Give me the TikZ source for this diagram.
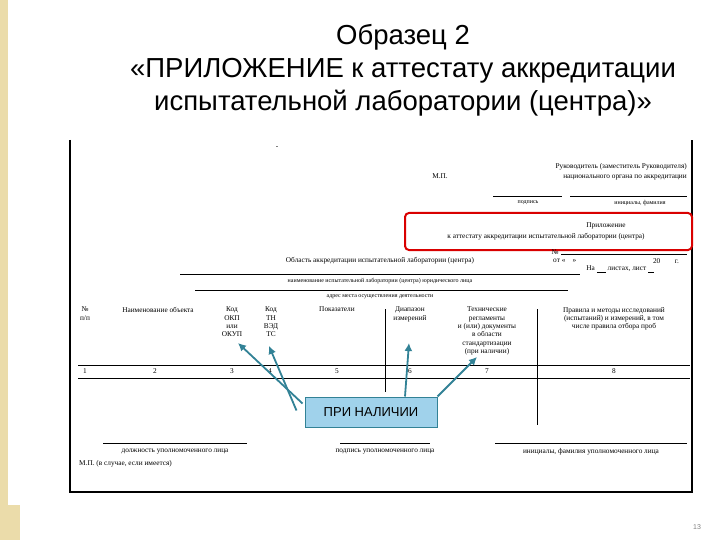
\documentclass[tikz,border=0pt]{standalone}
\usepackage{fontspec}
\setmainfont{Liberation Serif}
\newfontfamily\titlefont{Liberation Sans}
\usetikzlibrary{arrows.meta}
\definecolor{teal1}{RGB}{50,130,150}
\definecolor{boxfill}{RGB}{160,210,235}
\definecolor{beige}{RGB}{235,220,170}
\tikzset{
 doc/.style={font=\fontsize{7.3}{8.3}\selectfont, inner sep=0pt, align=center},
 capt/.style={font=\fontsize{6}{7}\selectfont, inner sep=0pt},
 ttl/.style={font=\titlefont\fontsize{27.5}{33}\selectfont, align=center, inner sep=0pt},
 arr/.style={teal1, line width=1.8pt, -{Latex[length=8pt,width=8pt]}},
 callout/.style={draw=teal1, fill=boxfill, line width=1pt, minimum width=132pt, minimum height=30pt, font=\titlefont\fontsize{13}{15}\selectfont}
}
\begin{document}
\begin{tikzpicture}[x=1pt,y=-1pt]
\useasboundingbox (0,0) rectangle (720,540);
\fill[white] (0,0) rectangle (720,540);
\fill[beige] (0,0) rectangle (8,540);
\fill[beige] (0,505) rectangle (20,540);
% title
\node[ttl] (t) at (403,70) {Образец 2\\«ПРИЛОЖЕНИЕ к аттестату аккредитации\\испытательной лаборатории (центра)»};
% frame
\draw[line width=1.2pt] (70,140) -- (70,492) -- (692,492) -- (692,140);
\node[doc] (dot) at (277,148) {-};
% header block
\node[doc, anchor=east] (ruk1) at (687,167) {Руководитель (заместитель Руководителя)};
\node[doc, anchor=east] (ruk2) at (687,178) {национального органа по аккредитации};
\node[doc] (mp) at (440,176) {М.П.};
\draw (493,196) -- (562,196);
\draw (570,196) -- (687,196);
\node[capt] (podp) at (528,203) {подпись};
\node[capt] (inic) at (640,203) {инициалы, фамилия};
\draw[red!85!black, line width=2pt, rounded corners=4pt] (405,213) rectangle (692,250);
\node[doc] (pril1) at (606,226) {Приложение};
\node[doc] (pril2) at (546,237) {к аттестату аккредитации испытательной лаборатории (центра)};
\node[doc] (no) at (555,252) {№};
\draw (561,254) -- (687,254);
\node[doc, anchor=west] (ot) at (553,261) {от «\quad »};
\node[doc] (g20) at (666,261) {20\qquad г.};
\node[doc] (na) at (620,269) {На \underline{\ \ \ \ \ } листах, лист \underline{\ \ \ }};
\node[doc] (obl) at (380,261) {Область аккредитации испытательной лаборатории (центра)};
\draw (180,274) -- (580,274);
\node[capt] (naim) at (380,281) {наименование испытательной лаборатории (центра) юридического лица};
\draw (195,290) -- (568,290);
\node[capt] (adr) at (380,297) {адрес места осуществления деятельности};
% table header
\node[doc, anchor=north] (h1) at (85,307) {№\\п/п};
\node[doc, anchor=north] (h2) at (158,307) {Наименование объекта};
\node[doc, anchor=north] (h3) at (232,307) {Код\\ОКП\\или\\ОКУП};
\node[doc, anchor=north] (h4) at (271,307) {Код\\ТН\\ВЭД\\ТС};
\node[doc, anchor=north] (h5) at (337,307) {Показатели};
\node[doc, anchor=north] (h6) at (410,307) {Диапазон\\измерений};
\node[doc, anchor=north] (h7) at (487,307) {Технические\\регламенты\\и (или) документы\\в области\\стандартизации\\(при наличии)};
\node[doc, anchor=north] (h8) at (614,307) {Правила и методы исследований\\(испытаний) и измерений, в том\\числе правила отбора проб};
\draw (385,309) -- (385,392);
\draw (537,309) -- (537,425);
\draw (78,365) -- (690,365);
\draw (78,378) -- (690,378);
\foreach \n/\x in {1/85,2/155,3/232,4/270,5/337,6/410,7/487,8/614}
  \node[doc] (n\n) at (\x,371.5) {\n};
% callout
\node[callout] (pn) at (371,412) {ПРИ НАЛИЧИИ};
\coordinate (a1) at (238,343);
\coordinate (a2) at (269,346);
\coordinate (a3) at (409,343);
\coordinate (a4) at (477,357);
\draw[arr] ([xshift=-2pt,yshift=-7pt]pn.north west) -- (a1);
\draw[arr] ([xshift=-8pt,yshift=-14pt]pn.north west) -- (a2);
\draw[arr] ([xshift=34pt]pn.north) -- (a3);
\draw[arr] ([xshift=0pt]pn.north east) -- (a4);
% signatures
\draw (103,443) -- (247,443);
\draw (340,443) -- (430,443);
\draw (495,443) -- (687,443);
\node[doc] (s1) at (175,452) {должность уполномоченного лица};
\node[doc] (s2) at (385,452) {подпись уполномоченного лица};
\node[doc] (s3) at (591,452) {инициалы, фамилия уполномоченного лица};
\node[doc, anchor=west] (mp2) at (79,464) {М.П. (в случае, если имеется)};
\node[font=\titlefont\fontsize{7}{8}\selectfont, text=gray] (pg) at (697,527) {13};
\end{tikzpicture}
\end{document}
